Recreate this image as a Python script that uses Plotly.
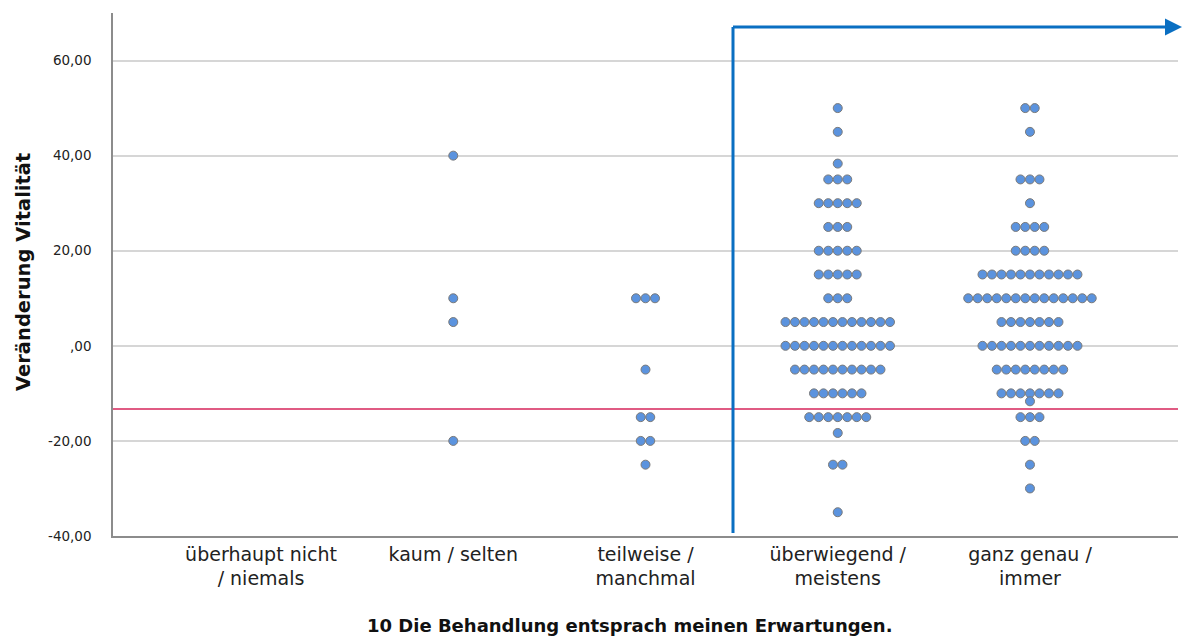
import plotly.graph_objects as go

cat_labels = ["überhaupt nicht<br>/ niemals", "kaum / selten", "teilweise /<br>manchmal",
              "überwiegend /<br>meistens", "ganz genau /<br>immer"]

# per category: distinct values and how many observations sit at each value
vals_c1 = []
cnts_c1 = []
vals_c2 = [40, 10, 5, -20]
cnts_c2 = [1, 1, 1, 1]
vals_c3 = [10, -5, -15, -20, -25]
cnts_c3 = [3, 1, 2, 2, 1]
vals_c4 = [50, 45, 38.33, 35, 30, 25, 20, 15, 10, 5, 0, -5, -10, -15, -18.33, -25, -35]
cnts_c4 = [1, 1, 1, 3, 5, 3, 5, 5, 3, 12, 12, 10, 6, 7, 1, 2, 1]
vals_c5 = [50, 45, 35, 30, 25, 20, 15, 10, 5, 0, -5, -10, -11.67, -15, -20, -25, -30]
cnts_c5 = [2, 1, 3, 1, 4, 4, 11, 14, 7, 11, 8, 7, 1, 3, 2, 1, 1]

ref_value = -13.3
y_ticks = [-40, -20, 0, 20, 40, 60]
y_ticktext = ["-40,00", "-20,00", ",00", "20,00", "40,00", "60,00"]

W, H = 1182, 636
ML, MR, MT, MB = 113, 4, 13, 100
PW, PH = W - ML - MR, H - MT - MB
XR = [-0.77, 4.77]
dot_px = 9.5
step = dot_px / PW * (XR[1] - XR[0])

xs, ys = [], []
for ci, (vals, cnts) in enumerate([(vals_c1, cnts_c1), (vals_c2, cnts_c2), (vals_c3, cnts_c3),
                                   (vals_c4, cnts_c4), (vals_c5, cnts_c5)]):
    for v, n in zip(vals, cnts):
        for i in range(n):
            xs.append(ci + (i - (n - 1) / 2) * step)
            ys.append(v)

fig = go.Figure()
fig.add_trace(go.Scatter(x=xs, y=ys, mode="markers",
                         marker=dict(size=9, color="#5B93DE", line=dict(color="#7A7A7A", width=1)),
                         hoverinfo="y", showlegend=False))

def px(x):
    return (x - ML) / PW

def py(y):
    return (MT + PH - y) / PH

blue = "#0A6FC2"
shapes = [
    dict(type="line", xref="paper", yref="y", x0=0, x1=1, y0=ref_value, y1=ref_value,
         line=dict(color="#D6245A", width=1.5)),
    dict(type="line", xref="paper", yref="paper", x0=px(733), x1=px(733), y0=py(533), y1=py(27),
         line=dict(color=blue, width=3)),
    dict(type="line", xref="paper", yref="paper", x0=px(733), x1=px(1168), y0=py(27), y1=py(27),
         line=dict(color=blue, width=3)),
    dict(type="path", xref="paper", yref="paper",
         path=f"M {px(1165)} {py(18.5)} L {px(1182)} {py(27)} L {px(1165)} {py(35.5)} Z",
         fillcolor=blue, line=dict(color=blue, width=0)),
]

font = "DejaVu Sans"
fig.update_layout(
    width=W, height=H,
    margin=dict(l=ML, r=MR, t=MT, b=MB),
    paper_bgcolor="white", plot_bgcolor="white",
    font=dict(family=font, color="#222222"),
    shapes=shapes,
    xaxis=dict(range=XR, tickvals=list(range(5)), ticktext=cat_labels, showgrid=False,
               zeroline=False, showline=True, linecolor="#8C8C8C", linewidth=1.5,
               ticks="", tickfont=dict(size=19, family=font, color="#222222")),
    yaxis=dict(range=[-40, 70], tickvals=y_ticks, ticktext=y_ticktext, showgrid=True,
               gridcolor="#D6D6D6", gridwidth=2, zeroline=False, showline=True,
               linecolor="#8C8C8C", linewidth=1.5, ticks="", ticklabelstandoff=17,
               tickfont=dict(size=13.5, family=font, color="#222222")),
    annotations=[
        dict(text="<b>Veränderung Vitalität</b>", xref="paper", yref="paper",
             x=px(23), y=py(272), textangle=-90, showarrow=False,
             font=dict(size=19.5, family=font, color="#111111"), xanchor="center", yanchor="middle"),
        dict(text="<b>10 Die Behandlung entsprach meinen Erwartungen.</b>", xref="paper", yref="paper",
             x=px(629), y=py(625), showarrow=False,
             font=dict(size=18, family=font, color="#111111"), xanchor="center", yanchor="middle"),
    ],
)

fig.write_html("out.html")
